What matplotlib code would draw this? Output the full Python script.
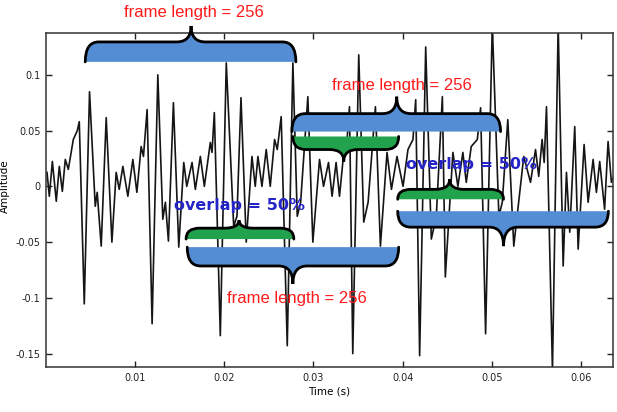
import numpy as np
import matplotlib
matplotlib.use("Agg")
import matplotlib.pyplot as plt
from matplotlib.path import Path
from matplotlib.patches import PathPatch

# waveform extrema (time in s, amplitude)
time_s = [0.00011, 0.00037, 0.00071, 0.00115, 0.00149, 0.00183, 0.00216, 0.00250, 0.00306,
          0.00351, 0.00373, 0.00429, 0.00488, 0.00552, 0.00574, 0.00619, 0.00675, 0.00739,
          0.00787, 0.00821, 0.00862, 0.00918, 0.00974, 0.01019, 0.01067, 0.01093, 0.01134,
          0.01190, 0.01254, 0.01310, 0.01339, 0.01373, 0.01429, 0.01489, 0.01545, 0.01579,
          0.01638, 0.01675, 0.01731, 0.01776, 0.01843, 0.01862, 0.01888, 0.01955, 0.02022,
          0.02105, 0.02142, 0.02187, 0.02246, 0.02310, 0.02347,
          0.02377, 0.02422, 0.02470, 0.02515, 0.02564, 0.02594, 0.02638, 0.02706, 0.02769,
          0.02818, 0.02856, 0.02937, 0.02993, 0.03068, 0.03113, 0.03169,
          0.03209, 0.03254, 0.03292, 0.03340, 0.03377, 0.03404, 0.03441, 0.03508, 0.03564,
          0.03613, 0.03695, 0.03751, 0.03825, 0.03875, 0.03937,
          0.04005, 0.04060, 0.04116, 0.04147, 0.04191, 0.04259, 0.04322, 0.04378, 0.04446,
          0.04479, 0.04564, 0.04620, 0.04676, 0.04714, 0.04770,
          0.04838, 0.04875, 0.04931, 0.05006, 0.05080, 0.05118, 0.05180, 0.05247, 0.05359,
          0.05435, 0.05491, 0.05527, 0.05565,
          0.05588, 0.05614, 0.05681, 0.05745, 0.05801, 0.05838, 0.05875, 0.05931, 0.05969,
          0.06036, 0.06081, 0.06137, 0.06174, 0.06211, 0.06266, 0.06305, 0.06342, 0.06375]
amplitude = [0.0125, -0.0089, 0.0223, -0.0134, 0.0179, -0.0045, 0.0241, 0.0152, 0.0420,
             0.0500, 0.0580, -0.1054, 0.0848, -0.0179, -0.0054, -0.0536, 0.0616, -0.0500,
             0.0125, -0.0027, 0.0179, -0.0089, 0.0241, -0.0054, 0.0357, 0.0268, 0.0688,
             -0.1232, 0.1000, -0.0295, -0.0143, -0.0491, 0.0750, -0.0545, 0.0214, 0.0,
             0.0214, -0.0027, 0.0268, 0.0, 0.0393, 0.0304, 0.0661, -0.1339, 0.1107,
             -0.0357, -0.0268, 0.0795, -0.0500, 0.0268, 0.0,
             0.0268, 0.0, 0.0330, 0.0, 0.0420, 0.0330, 0.0625, -0.1429, 0.1107,
             -0.0268, -0.0143, 0.0804, -0.0500, 0.0241, 0.0, 0.0214,
             -0.0089, 0.0214, -0.0089, 0.0304, 0.0420, 0.0714, -0.1500, 0.1179, -0.0321,
             -0.0143, 0.0714, -0.0536, 0.0304, -0.0027, 0.0268,
             0.0, 0.0330, 0.0420, 0.0777, -0.1518, 0.1250, -0.0473, -0.0268, 0.0804,
             -0.0813, 0.0304, 0.0, 0.0304, 0.0036, 0.0357,
             0.0420, 0.0705, -0.1322, 0.1450, -0.0268, -0.0143, 0.0598, -0.0536, 0.0268,
             0.0036, 0.0330, 0.0089, 0.0420,
             0.0214, 0.0714, -0.1650, 0.1450, -0.0714, 0.0125, -0.0411, 0.0536, -0.0563,
             0.0375, -0.0143, 0.0241, -0.0054, 0.0223, -0.0205, 0.0402, 0.0036, 0.0107]

x_ticks = [0.01, 0.02, 0.03, 0.04, 0.05, 0.06]
x_tick_labels = ["0.01", "0.02", "0.03", "0.04", "0.05", "0.06"]
y_ticks = [-0.15, -0.1, -0.05, 0, 0.05, 0.1]
y_tick_labels = ["-0.15", "-0.1", "-0.05", "0", "0.05", "0.1"]

frame_label = "frame length = 256"
overlap_label = "overlap = 50%"

BLUE = "#548dd4"
GREEN = "#22a24c"


def brace(ax, x0, x1, xt, y_flat, y_line, y_tip, color, r=0.0015, w=0.0016):
    """curly brace: flat edge at y_flat, outline at y_line, cusp at (xt, y_tip)"""
    verts = [(x0, y_flat),
             (x0, y_line), (x0 + r, y_line),
             (xt - w, y_line),
             (xt, y_line), (xt, y_tip),
             (xt, y_line), (xt + w, y_line),
             (x1 - r, y_line),
             (x1, y_line), (x1, y_flat)]
    codes = [Path.MOVETO,
             Path.CURVE3, Path.CURVE3,
             Path.LINETO,
             Path.CURVE3, Path.CURVE3,
             Path.CURVE3, Path.CURVE3,
             Path.LINETO,
             Path.CURVE3, Path.CURVE3]
    fill = Path(verts + [(x0, y_flat)], codes + [Path.CLOSEPOLY])
    ax.add_patch(PathPatch(fill, facecolor=color, edgecolor="none",
                           clip_on=False, zorder=3))
    ax.add_patch(PathPatch(Path(verts, codes), facecolor="none", edgecolor="black",
                           lw=2.0, clip_on=False, zorder=4, capstyle="round"))


fig = plt.figure(figsize=(6.17, 4.12), dpi=100)
ax = fig.add_axes([0.0746, 0.1092, 0.9189, 0.8107])

ax.plot(time_s, amplitude, color="#151515", lw=1.2, zorder=2,
        solid_joinstyle="round")

ax.set_xlim(0, 0.0636)
ax.set_ylim(-0.162, 0.1375)
ax.set_xticks(x_ticks)
ax.set_xticklabels(x_tick_labels)
ax.set_yticks(y_ticks)
ax.set_yticklabels(y_tick_labels)
ax.tick_params(direction="in", top=True, right=True, length=4, width=1,
               labelsize=7, pad=4, colors="#222222")
for s in ax.spines.values():
    s.set_linewidth(1.1)
    s.set_color("#333333")

ax.set_xlabel("Time (s)", fontsize=7.5, labelpad=3)
ax.set_ylabel("Amplitude", fontsize=7.5)
ax.yaxis.set_label_coords(-0.064, 0.54)

# frames and overlaps
brace(ax, 0.00440, 0.02803, 0.01627, 0.1116, 0.1295, 0.1438, BLUE)
brace(ax, 0.02758, 0.05099, 0.03934, 0.0491, 0.0652, 0.0804, BLUE)
brace(ax, 0.02769, 0.03956, 0.03340, 0.0447, 0.0330, 0.0223, GREEN)
brace(ax, 0.01571, 0.02780, 0.02165, -0.0473, -0.0375, -0.0304, GREEN)
brace(ax, 0.01584, 0.03956, 0.02769, -0.0545, -0.0714, -0.0875, BLUE)
brace(ax, 0.03945, 0.05132, 0.04528, -0.0116, -0.0027, 0.0063, GREEN)
brace(ax, 0.03945, 0.06308, 0.05132, -0.0223, -0.0366, -0.0536, BLUE)

red_kw = dict(color="#ff1a1a", fontsize=12, ha="center", va="center", zorder=5,
              family=["Liberation Sans", "DejaVu Sans"], clip_on=False)
ax.text(0.01662, 0.1563, frame_label, **red_kw)
ax.text(0.03990, 0.0902, frame_label, **red_kw)
ax.text(0.02814, -0.1009, frame_label, **red_kw)

blue_kw = dict(color="#2424c8", fontsize=11.5, fontweight="bold", ha="center",
               va="center", zorder=5)
ax.text(0.02165, -0.0170, overlap_label, **blue_kw)
ax.text(0.04774, 0.0196, overlap_label, **blue_kw)

fig.savefig("out.png", dpi=100)
